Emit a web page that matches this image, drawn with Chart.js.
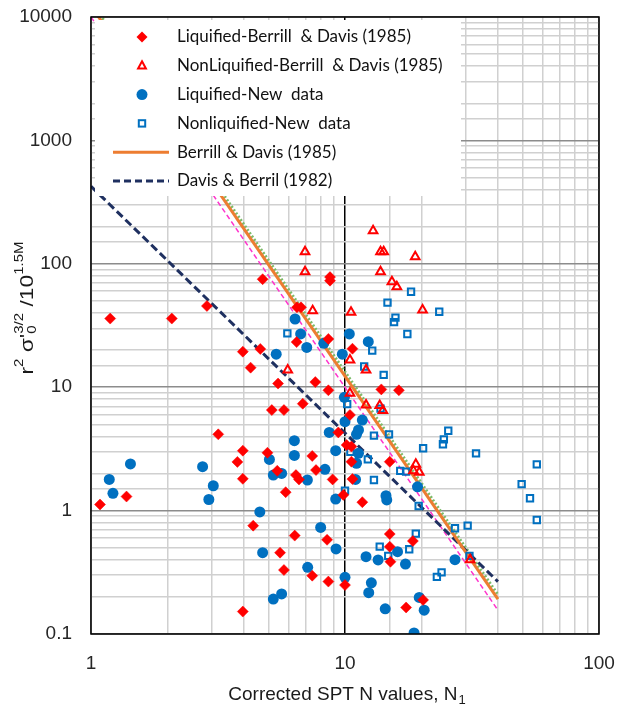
<!DOCTYPE html>
<html>
<head>
<meta charset="utf-8">
<script src="https://cdn.jsdelivr.net/npm/chart.js@4.4.1/dist/chart.umd.min.js"></script>
<style>
  body { margin: 0; background: #fff; }
  canvas { display: block; }
</style>
</head>
<body>
<canvas id="chart" width="629" height="704"></canvas>
<script>
// Liquified - Berrill & Davis (1985)
const liqBdN = [1.19, 2.08, 2.86, 4.74, 6.47, 6.71, 8.73, 8.73, 8.6, 6.45, 3.96, 4.64, 4.25, 5.45, 7.64, 8.6, 6.82, 5.15, 5.75,
  10.7, 13.9, 16.3, 10.46, 9.41, 10.15, 10.6, 10.6, 8.94, 10.7, 15.0, 9.85, 11.7, 15.0, 15.0, 18.5, 15.1, 10.0, 8.6, 17.4, 20.3,
  1.085, 1.38, 3.17, 3.96, 3.77, 3.96, 4.95, 5.41, 5.84, 6.41, 6.59, 7.43, 7.69, 4.35, 6.34, 8.5, 5.55, 5.75, 7.43, 3.96];
const liqBdY = [36, 36, 45.5, 75, 44.4, 44.4, 78, 73, 24.6, 23.2, 19.4, 20.4, 14.4, 10.7, 11.0, 9.44, 7.35, 6.53, 6.53,
  20.5, 9.6, 9.44, 5.96, 4.3, 3.4, 3.3, 2.49, 1.79, 1.8, 2.49, 1.34, 1.17, 0.646, 0.51, 0.567, 0.385, 0.249, 0.266, 0.164, 0.189,
  1.12, 1.30, 4.15, 3.06, 2.48, 1.81, 2.94, 2.10, 1.41, 1.94, 1.79, 2.77, 2.13, 0.755, 0.627, 0.58, 0.456, 0.33, 0.297, 0.152];

// NonLiquified - Berrill & Davis (1985)
const nonLiqBdN = [6.96, 6.96, 7.46, 5.95, 10.56, 12.9, 13.8, 14.2, 18.9, 13.8, 15.3, 16.0, 20.2, 10.46, 12.1, 10.46, 12.1,
  13.7, 14.1, 19.0, 18.6, 19.6, 31.1];
const nonLiqBdY = [125, 86.3, 41.7, 13.8, 40.5, 185, 125, 125, 114, 86.3, 71.6, 65.2, 42.3, 16.6, 13.8, 8.92, 7.18,
  7.1, 6.46, 2.37, 2.1, 2.05, 0.40];

// Liquified - new data
const liqNewN = [1.18, 1.22, 1.43, 2.75, 3.03, 2.91, 4.62, 5.04, 5.22, 5.63, 6.32, 6.32, 7.11, 8.34, 8.67, 9.19, 10.0, 9.19,
  4.74, 8.02, 9.22, 7.13, 5.22, 5.63, 10.0, 6.36, 6.69, 7.07, 8.25, 5.36, 9.76, 10.4, 9.94, 12.35, 11.7, 11.3, 11.1, 11.3,
  11.1, 11.0, 14.5, 14.6, 19.3, 12.1, 13.5, 16.1, 17.3, 27.1, 12.7, 12.4, 14.4, 19.6, 20.5, 18.7];
const liqNewY = [1.79, 1.38, 2.39, 2.27, 1.59, 1.23, 0.975, 2.6, 1.94, 2.0, 3.69, 2.8, 1.77, 2.16, 4.3, 3.06, 5.25, 1.24,
  0.456, 0.73, 0.489, 0.347, 0.192, 0.211, 0.288, 35.7, 27, 21, 22.7, 18.5, 18.5, 27, 8.28, 23.4, 5.42, 4.5, 4.15, 2.91,
  2.42, 1.79, 1.32, 1.22, 1.56, 0.423, 0.398, 0.465, 0.369, 0.40, 0.26, 0.216, 0.16, 0.198, 0.156, 0.102];

// Nonliquified - new data
const nonLiqNewN = [5.93, 10.2, 18.2, 14.7, 15.8, 15.6, 23.5, 17.6, 12.8, 11.9, 14.2, 13.8, 13.0, 14.9, 10.5, 12.3, 25.5,
  24.5, 24.3, 20.3, 32.8, 56.9, 49.6, 53.5, 56.9, 13.0, 10.0, 16.5, 17.4, 19.5, 27.1, 30.4, 19.0, 13.7, 17.9, 14.8, 30.9,
  24.0, 23.0];
const nonLiqNewY = [27.3, 7.3, 59.4, 48.4, 36.6, 33.7, 40.9, 27, 19.8, 14.7, 12.6, 6.7, 4.05, 4.15, 3.0, 2.6, 4.44,
  3.78, 3.45, 3.2, 2.91, 2.37, 1.64, 1.26, 0.84, 1.77, 1.45, 2.1, 2.07, 1.09, 0.72, 0.755, 0.65, 0.51, 0.486, 0.43, 0.43,
  0.316, 0.29];

// boundary lines (end points)
const lineN = [1, 40];
const bdLineY = [12300, 0.192];    // Berrill & Davis (1985)
const bdUpperY = [13300, 0.208];   // green dotted
const bdLowerY = [10000, 0.156];   // magenta dashed
const dbLineY = [425, 0.266];      // Davis & Berril (1982)

const xTickLabels = [1, 10, 100];
const yTickLabels = [0.1, 1, 10, 100, 1000, 10000];

const pts = (xs, ys) => xs.map((x, i) => ({ x: x, y: ys[i] }));
const isDecade = v => Math.abs(Math.log10(v) - Math.round(Math.log10(v))) < 1e-6;

const RED = '#ff0000';
const BLUE = '#0070c0';
const ORANGE = '#ed7d31';
const NAVY = '#1f3060';

const legendItems = [
  { text: 'Liquified-Berrill  & Davis (1985)', kind: 'diamond' },
  { text: 'NonLiquified-Berrill  & Davis (1985)', kind: 'triangle' },
  { text: 'Liquified-New  data', kind: 'circle' },
  { text: 'Nonliquified-New  data', kind: 'square' },
  { text: 'Berrill & Davis (1985)', kind: 'line' },
  { text: 'Davis & Berril (1982)', kind: 'dash' }
];

const decorations = {
  id: 'decorations',
  afterDatasetsDraw(chart) {
    const ctx = chart.ctx;
    const area = chart.chartArea;
    ctx.save();
    // legend box
    ctx.fillStyle = '#fff';
    ctx.fillRect(area.left + 4, area.top + 3, 366, 176);
    ctx.font = '17px Lato';
    ctx.textBaseline = 'middle';
    legendItems.forEach((it, i) => {
      const y = 37 + i * 28.8;
      const mx = 142;
      ctx.setLineDash([]);
      if (it.kind === 'diamond') {
        ctx.fillStyle = RED;
        ctx.beginPath();
        ctx.moveTo(mx, y - 5.5); ctx.lineTo(mx + 5.5, y); ctx.lineTo(mx, y + 5.5); ctx.lineTo(mx - 5.5, y);
        ctx.closePath(); ctx.fill();
      } else if (it.kind === 'triangle') {
        ctx.strokeStyle = RED; ctx.lineWidth = 2;
        ctx.beginPath();
        ctx.moveTo(mx, y - 4.5); ctx.lineTo(mx + 3.9, y + 2.6); ctx.lineTo(mx - 3.9, y + 2.6);
        ctx.closePath(); ctx.stroke();
      } else if (it.kind === 'circle') {
        ctx.fillStyle = BLUE;
        ctx.beginPath(); ctx.arc(mx, y, 5.5, 0, Math.PI * 2); ctx.fill();
      } else if (it.kind === 'square') {
        ctx.strokeStyle = BLUE; ctx.lineWidth = 2;
        ctx.strokeRect(mx - 3.2, y - 3.2, 6.4, 6.4);
      } else if (it.kind === 'line') {
        ctx.strokeStyle = ORANGE; ctx.lineWidth = 3;
        ctx.beginPath(); ctx.moveTo(113, y); ctx.lineTo(169, y); ctx.stroke();
      } else {
        ctx.strokeStyle = NAVY; ctx.lineWidth = 3; ctx.setLineDash([7, 4]);
        ctx.beginPath(); ctx.moveTo(113, y); ctx.lineTo(169, y); ctx.stroke();
      }
      ctx.fillStyle = '#111';
      ctx.fillText(it.text, 177, y);
    });
    ctx.restore();
  },
  afterDraw(chart) {
    const ctx = chart.ctx;
    const area = chart.chartArea;
    ctx.save();
    ctx.strokeStyle = '#000';
    ctx.lineWidth = 1.5;
    ctx.setLineDash([]);
    ctx.strokeRect(area.left, area.top, area.right - area.left, area.bottom - area.top);

    // x axis title with subscript
    ctx.fillStyle = '#1a1a1a';
    ctx.textBaseline = 'alphabetic';
    const main = 'Corrected SPT N values, N';
    ctx.font = '19px "Liberation Sans"';
    const w1 = ctx.measureText(main).width;
    ctx.font = '13px "Liberation Sans"';
    const w2 = ctx.measureText('1').width;
    const x0 = 226 + (241 - w1 - w2) / 2;
    ctx.font = '19px "Liberation Sans"';
    ctx.fillText(main, x0, 700);
    ctx.font = '13px "Liberation Sans"';
    ctx.fillText('1', x0 + w1 + 1, 704);

    // y axis title, rotated, with super/subscripts
    const segs = [
      { t: 'r', s: 19, dy: 0 },
      { t: '2', s: 12.5, dy: -10 },
      { t: ' σ\'', s: 19, dy: 0 },
      { t: '3/2', s: 12.5, dy: -10, sub: '0' },
      { t: ' /10', s: 19, dy: 0 },
      { t: '1.5M', s: 12.5, dy: -10 }
    ];
    let total = 0;
    segs.forEach(sg => {
      ctx.font = sg.s + 'px "Liberation Sans"';
      sg.w = ctx.measureText(sg.t).width;
      total += sg.w;
    });
    const span = 133;
    ctx.translate(33, 308);
    ctx.rotate(-Math.PI / 2);
    ctx.scale(span / total, 1);
    let cx = -total / 2;
    segs.forEach(sg => {
      ctx.font = sg.s + 'px "Liberation Sans"';
      ctx.fillText(sg.t, cx, sg.dy);
      if (sg.sub) ctx.fillText(sg.sub, cx, 3);
      cx += sg.w;
    });
    ctx.restore();
  }
};

const tickFont = { family: 'Liberation Sans', size: 19 };

new Chart(document.getElementById('chart'), {
  type: 'scatter',
  data: {
    datasets: [
      { label: 'Liquified-Berrill & Davis (1985)', data: pts(liqBdN, liqBdY), pointStyle: 'rectRot', pointRadius: 5.5,
        backgroundColor: RED, borderColor: RED, borderWidth: 0.5, order: 1 },
      { label: 'NonLiquified-Berrill & Davis (1985)', data: pts(nonLiqBdN, nonLiqBdY), pointStyle: 'triangle', pointRadius: 5,
        backgroundColor: 'rgba(0,0,0,0)', borderColor: RED, borderWidth: 2, order: 1 },
      { label: 'Liquified-New data', data: pts(liqNewN, liqNewY), pointStyle: 'circle', pointRadius: 5.5,
        backgroundColor: BLUE, borderColor: BLUE, borderWidth: 0, order: 1 },
      { label: 'Nonliquified-New data', data: pts(nonLiqNewN, nonLiqNewY), pointStyle: 'rect', pointRadius: 4.5,
        backgroundColor: 'rgba(0,0,0,0)', borderColor: BLUE, borderWidth: 2, order: 1 },
      { label: 'Berrill & Davis (1985)', data: pts(lineN, bdLineY), showLine: true, pointRadius: 0,
        borderColor: ORANGE, borderWidth: 3, order: 2 },
      { label: 'upper', data: pts(lineN, bdUpperY), showLine: true, pointRadius: 0,
        borderColor: '#7dbb6a', borderWidth: 3, borderDash: [2, 2], order: 3 },
      { label: 'lower', data: pts(lineN, bdLowerY), showLine: true, pointRadius: 0,
        borderColor: '#ff33cc', borderWidth: 1.5, borderDash: [5, 3], order: 3 },
      { label: 'Davis & Berril (1982)', data: pts(lineN, dbLineY), showLine: true, pointRadius: 0,
        borderColor: NAVY, borderWidth: 3, borderDash: [8, 4], order: 2 }
    ]
  },
  options: {
    responsive: false,
    animation: false,
    layout: { padding: { left: 0, right: 30, top: 17, bottom: 0 } },
    plugins: { legend: { display: false }, tooltip: { enabled: false } },
    scales: {
      x: {
        type: 'logarithmic', min: 1, max: 100,
        afterFit: s => { s.height = 70; s.paddingLeft = 0; s.paddingRight = 0; },
        border: { display: false },
        grid: {
          drawTicks: false,
          lineWidth: 1.5,
          color: c => (c.tick && c.tick.value === 10) ? '#000' : (c.tick && isDecade(c.tick.value) ? '#8c8c8c' : '#d0d0d0')
        },
        ticks: {
          autoSkip: false, maxRotation: 0, padding: 18, color: '#262626', font: tickFont,
          callback: v => xTickLabels.includes(v) ? String(v) : ''
        }
      },
      y: {
        type: 'logarithmic', min: 0.1, max: 10000,
        afterFit: s => { s.width = 91; s.paddingTop = 0; s.paddingBottom = 0; },
        border: { display: false },
        grid: {
          drawTicks: false,
          lineWidth: 1.5,
          color: c => (c.tick && isDecade(c.tick.value)) ? '#8c8c8c' : '#d0d0d0'
        },
        ticks: {
          autoSkip: false, padding: 19, color: '#262626', font: tickFont,
          callback: v => yTickLabels.some(t => Math.abs(t - v) < 1e-9) ? String(v) : ''
        }
      }
    }
  },
  plugins: [decorations]
});
</script>
</body>
</html>
